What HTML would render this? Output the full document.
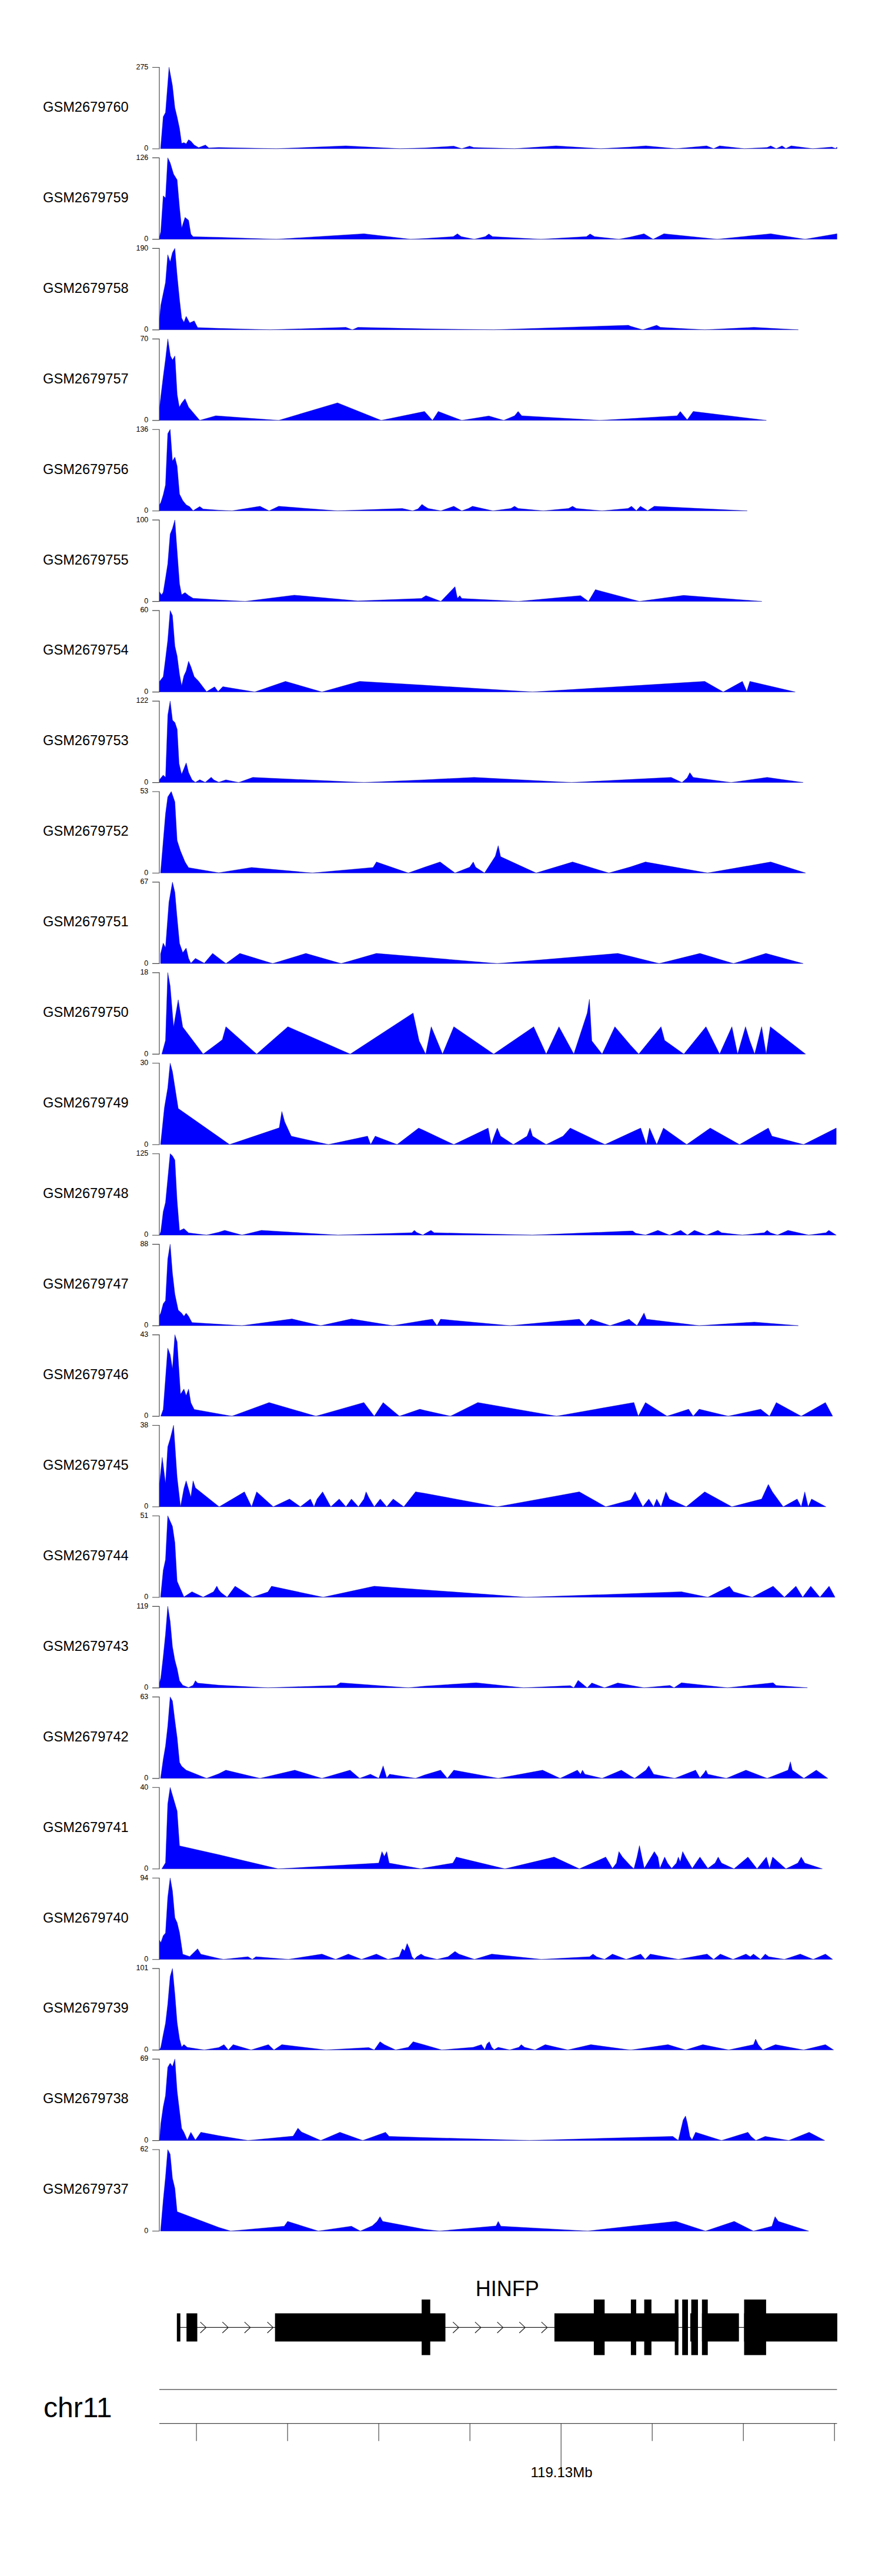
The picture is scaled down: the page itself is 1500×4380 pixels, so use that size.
<!DOCTYPE html>
<html><head><meta charset="utf-8"><title>tracks</title>
<style>
html,body{margin:0;padding:0;background:#fff;}
body{width:1500px;height:4380px;position:relative;overflow:hidden;}
svg text{font-family:"Liberation Sans",sans-serif;fill:#000;}
</style></head><body>
<svg width="1500" height="4380" viewBox="0 0 1500 4380" style="position:absolute;left:0;top:0">
<rect width="1500" height="4380" fill="#fff"/>
<path d="M259,114.50H271M271,114.00V253.50M259,253.00H271" stroke="#444" stroke-width="1.15" fill="none"/>
<path d="M273.1,252.8L273.1,252.8L277.6,198.5L281.5,191.2L287.5,114.3L293.3,145.8L297.4,183.2L301.2,198.9L305.3,218.3L308.9,243.7L312.8,242.5L316.6,244.4L320.7,237.6L324.6,240.0L330.3,246.6L337.8,250.9L349.4,246.6L355.1,251.4L372.0,250.8L470.0,252.8L588.3,248.0L680.2,252.8L722.0,251.6L771.8,248.4L785.3,252.8L798.7,248.4L805.7,250.8L875.1,252.8L945.7,248.0L1022.0,252.8L1072.0,250.0L1098.5,248.0L1149.6,252.8L1201.8,248.0L1213.6,252.8L1223.8,248.0L1265.9,252.8L1304.7,250.8L1310.8,248.0L1320.2,252.8L1330.0,248.0L1336.5,252.4L1345.5,248.0L1382.2,252.8L1414.9,250.0L1421.0,252.4L1423.4,250.0L1423.4,252.8L1423.4,252.8Z" fill="#0000ff" stroke="#00009a" stroke-width="0.45" stroke-linejoin="round"/>
<text x="252.3" y="117.8" font-size="12.5" text-anchor="end">275</text>
<text x="252.3" y="256.2" font-size="12.5" text-anchor="end">0</text>
<text x="73.1" y="189.8" font-size="23.6">GSM2679760</text>
<path d="M259,268.44H271M271,267.94V407.44M259,406.94H271" stroke="#444" stroke-width="1.15" fill="none"/>
<path d="M271.3,406.8L271.3,406.8L271.3,402.9L273.5,393.8L277.6,333.0L281.5,336.6L285.3,268.3L289.4,276.7L295.2,296.0L301.2,305.7L305.3,352.7L308.9,387.7L314.7,369.6L320.7,374.5L324.6,398.1L328.4,402.4L372.0,403.5L470.0,406.8L618.9,397.4L698.5,406.8L722.0,405.6L771.0,402.3L777.9,397.4L784.4,402.3L806.5,406.8L825.3,402.3L831.4,397.8L837.5,402.3L920.0,406.8L997.5,402.3L1003.6,397.8L1011.0,402.3L1052.6,406.8L1072.0,403.1L1095.3,397.4L1110.8,406.8L1129.1,397.4L1219.8,406.8L1310.8,397.4L1369.1,406.8L1423.4,397.4L1423.4,406.8L1423.4,406.8Z" fill="#0000ff" stroke="#00009a" stroke-width="0.45" stroke-linejoin="round"/>
<text x="252.3" y="271.7" font-size="12.5" text-anchor="end">126</text>
<text x="252.3" y="410.1" font-size="12.5" text-anchor="end">0</text>
<text x="73.1" y="343.7" font-size="23.6">GSM2679759</text>
<path d="M259,422.37H271M271,421.87V561.37M259,560.87H271" stroke="#444" stroke-width="1.15" fill="none"/>
<path d="M271.3,560.7L271.3,560.7L271.3,541.9L273.5,518.9L281.5,480.2L285.3,433.1L289.4,445.2L293.3,429.5L297.4,422.2L301.2,468.1L305.3,509.2L308.9,540.7L312.8,547.9L316.6,537.8L322.6,549.1L330.3,545.5L336.1,556.9L372.0,558.3L459.8,560.7L588.3,556.6L599.3,560.7L608.7,556.6L722.0,559.1L839.6,560.7L1068.9,553.0L1072.0,554.6L1093.2,560.7L1116.9,553.0L1123.0,556.6L1198.5,560.7L1282.2,556.6L1357.7,560.7L1357.7,560.7Z" fill="#0000ff" stroke="#00009a" stroke-width="0.45" stroke-linejoin="round"/>
<text x="252.3" y="425.7" font-size="12.5" text-anchor="end">190</text>
<text x="252.3" y="564.1" font-size="12.5" text-anchor="end">0</text>
<text x="73.1" y="497.7" font-size="23.6">GSM2679758</text>
<path d="M259,576.31H271M271,575.81V715.31M259,714.81H271" stroke="#444" stroke-width="1.15" fill="none"/>
<path d="M271.4,714.7L271.4,714.7L271.4,692.9L273.4,675.2L277.5,641.2L281.6,609.9L285.4,576.2L289.8,605.1L293.4,611.9L297.5,605.1L301.3,671.1L305.0,692.2L308.8,685.4L314.7,677.9L320.7,692.2L339.7,714.7L366.9,706.9L372.0,707.3L474.0,714.7L574.0,684.9L648.3,714.7L722.0,699.6L735.5,714.7L745.3,699.6L785.3,714.7L831.4,707.3L856.7,714.7L875.1,706.9L881.2,699.6L887.3,706.9L1020.0,714.7L1072.0,711.8L1151.6,706.9L1156.9,699.6L1168.7,713.8L1178.9,699.6L1303.4,714.7L1303.4,714.7Z" fill="#0000ff" stroke="#00009a" stroke-width="0.45" stroke-linejoin="round"/>
<text x="252.3" y="579.6" font-size="12.5" text-anchor="end">70</text>
<text x="252.3" y="718.0" font-size="12.5" text-anchor="end">0</text>
<text x="73.1" y="651.6" font-size="23.6">GSM2679757</text>
<path d="M259,730.24H271M271,729.74V869.24M259,868.74H271" stroke="#444" stroke-width="1.15" fill="none"/>
<path d="M271.3,868.6L271.3,868.6L271.3,858.2L273.5,854.6L277.6,841.3L281.5,824.4L285.3,737.3L289.4,730.1L293.3,784.0L297.4,777.2L301.2,792.5L305.3,840.1L310.8,850.9L316.6,858.2L322.6,861.6L328.4,868.3L339.7,861.3L345.5,865.4L372.0,867.4L394.4,868.6L442.2,860.8L457.7,868.6L474.0,860.8L574.0,868.6L684.2,864.5L701.8,868.6L710.8,865.3L717.7,857.6L722.0,860.8L728.1,864.5L749.8,868.6L771.8,860.8L785.3,868.6L796.7,864.5L803.6,860.8L838.3,868.6L868.9,864.5L875.1,860.8L881.2,864.5L924.0,868.6L966.9,864.5L973.8,860.8L980.0,864.5L1024.0,868.6L1068.1,864.5L1074.0,860.8L1082.2,868.2L1089.1,860.8L1101.4,868.2L1112.8,860.8L1270.8,868.6L1270.8,868.6Z" fill="#0000ff" stroke="#00009a" stroke-width="0.45" stroke-linejoin="round"/>
<text x="252.3" y="733.5" font-size="12.5" text-anchor="end">136</text>
<text x="252.3" y="871.9" font-size="12.5" text-anchor="end">0</text>
<text x="73.1" y="805.5" font-size="23.6">GSM2679756</text>
<path d="M259,884.17H271M271,883.67V1023.17M259,1022.67H271" stroke="#444" stroke-width="1.15" fill="none"/>
<path d="M271.3,1022.5L271.3,1022.5L271.3,1006.4L274.7,1011.4L277.6,1007.1L281.5,983.0L285.3,958.8L289.4,908.2L293.3,898.5L297.4,884.0L301.2,937.1L305.3,992.6L308.9,1011.2L314.7,1007.6L320.7,1012.4L328.4,1017.2L372.0,1020.1L416.9,1022.5L500.6,1011.9L608.7,1021.7L716.9,1017.6L724.4,1012.7L749.8,1022.5L773.8,997.6L777.9,1017.2L782.0,1012.7L785.3,1017.6L881.2,1022.5L987.3,1012.7L1000.8,1022.5L1012.6,1002.5L1072.0,1018.4L1087.5,1022.5L1162.6,1012.3L1295.7,1022.5L1295.7,1022.5Z" fill="#0000ff" stroke="#00009a" stroke-width="0.45" stroke-linejoin="round"/>
<text x="252.3" y="887.5" font-size="12.5" text-anchor="end">100</text>
<text x="252.3" y="1025.9" font-size="12.5" text-anchor="end">0</text>
<text x="73.1" y="959.5" font-size="23.6">GSM2679755</text>
<path d="M259,1038.11H271M271,1037.61V1177.11M259,1176.61H271" stroke="#444" stroke-width="1.15" fill="none"/>
<path d="M271.3,1176.5L271.3,1176.5L271.3,1158.8L277.6,1150.4L281.5,1120.1L285.3,1088.7L289.4,1038.0L293.3,1046.4L297.4,1098.4L301.2,1115.3L305.3,1146.7L308.9,1166.1L312.8,1149.1L316.6,1140.7L320.7,1124.3L324.6,1133.4L330.3,1150.4L337.8,1158.3L351.3,1176.0L365.0,1167.8L370.8,1175.7L372.0,1174.8L378.9,1167.5L433.2,1176.5L485.5,1158.5L547.5,1176.5L611.6,1158.5L722.0,1165.0L905.7,1176.5L1072.0,1166.3L1198.5,1158.5L1230.0,1176.5L1262.6,1158.5L1270.0,1175.6L1275.3,1158.5L1352.4,1176.5L1352.4,1176.5Z" fill="#0000ff" stroke="#00009a" stroke-width="0.45" stroke-linejoin="round"/>
<text x="252.3" y="1041.4" font-size="12.5" text-anchor="end">60</text>
<text x="252.3" y="1179.8" font-size="12.5" text-anchor="end">0</text>
<text x="73.1" y="1113.4" font-size="23.6">GSM2679754</text>
<path d="M259,1192.05H271M271,1191.55V1331.05M259,1330.55H271" stroke="#444" stroke-width="1.15" fill="none"/>
<path d="M271.4,1330.4L271.4,1330.4L271.4,1325.6L277.5,1317.9L281.6,1321.6L285.4,1215.7L289.4,1191.9L293.4,1224.5L297.5,1228.6L301.3,1240.1L304.5,1298.2L308.8,1316.5L312.2,1308.4L316.7,1297.1L320.8,1313.5L326.5,1325.7L332.2,1330.2L339.8,1325.7L349.0,1330.2L359.2,1321.6L363.7,1326.1L372.0,1330.0L384.2,1325.9L405.9,1330.4L430.0,1321.8L618.9,1330.4L722.0,1325.9L806.5,1321.8L971.8,1330.4L1072.0,1325.3L1141.4,1321.8L1159.8,1330.4L1168.7,1322.6L1173.2,1313.7L1178.9,1321.8L1243.4,1330.4L1304.7,1321.8L1365.9,1330.4L1365.9,1330.4Z" fill="#0000ff" stroke="#00009a" stroke-width="0.45" stroke-linejoin="round"/>
<text x="252.3" y="1195.3" font-size="12.5" text-anchor="end">122</text>
<text x="252.3" y="1333.7" font-size="12.5" text-anchor="end">0</text>
<text x="73.1" y="1267.3" font-size="23.6">GSM2679753</text>
<path d="M259,1345.98H271M271,1345.48V1484.98M259,1484.48H271" stroke="#444" stroke-width="1.15" fill="none"/>
<path d="M273.1,1484.3L273.1,1484.3L281.5,1383.8L285.3,1355.0L291.3,1345.8L297.4,1363.4L301.2,1429.0L307.0,1447.1L314.7,1465.6L320.7,1475.2L372.0,1483.9L427.9,1474.9L531.2,1484.3L634.4,1474.9L640.2,1465.6L694.4,1484.3L722.0,1474.5L748.5,1465.6L773.8,1484.3L798.7,1474.5L804.9,1465.6L808.9,1474.5L824.0,1484.3L842.4,1455.8L847.3,1437.8L851.4,1456.6L911.8,1484.3L973.8,1465.6L1035.5,1484.3L1072.0,1474.1L1097.7,1465.6L1203.4,1484.3L1310.8,1465.6L1370.0,1484.3L1370.0,1484.3Z" fill="#0000ff" stroke="#00009a" stroke-width="0.45" stroke-linejoin="round"/>
<text x="252.3" y="1349.3" font-size="12.5" text-anchor="end">53</text>
<text x="252.3" y="1487.7" font-size="12.5" text-anchor="end">0</text>
<text x="73.1" y="1421.3" font-size="23.6">GSM2679752</text>
<path d="M259,1499.91H271M271,1499.41V1638.91M259,1638.41H271" stroke="#444" stroke-width="1.15" fill="none"/>
<path d="M273.1,1638.3L273.1,1638.3L273.1,1622.1L277.6,1603.6L281.5,1611.3L287.3,1534.2L293.3,1499.8L297.4,1517.3L301.2,1560.7L305.3,1604.1L310.8,1619.7L316.6,1612.0L320.7,1629.4L324.6,1637.8L332.3,1629.6L347.4,1637.8L361.6,1620.9L372.0,1628.9L384.2,1638.3L407.9,1621.1L463.8,1638.3L520.2,1621.1L580.2,1638.3L640.2,1621.1L722.0,1627.7L845.7,1638.3L1050.6,1621.1L1072.0,1626.0L1121.0,1638.3L1190.4,1621.1L1247.5,1638.3L1302.6,1621.1L1365.9,1638.3L1365.9,1638.3Z" fill="#0000ff" stroke="#00009a" stroke-width="0.45" stroke-linejoin="round"/>
<text x="252.3" y="1503.2" font-size="12.5" text-anchor="end">67</text>
<text x="252.3" y="1641.6" font-size="12.5" text-anchor="end">0</text>
<text x="73.1" y="1575.2" font-size="23.6">GSM2679751</text>
<path d="M259,1653.85H271M271,1653.35V1792.85M259,1792.35H271" stroke="#444" stroke-width="1.15" fill="none"/>
<path d="M275.2,1792.2L275.2,1792.2L281.5,1769.1L285.3,1653.7L289.4,1676.5L295.2,1746.3L303.1,1699.9L310.8,1746.3L345.5,1792.2L372.0,1772.6L378.1,1767.7L384.2,1745.7L436.5,1792.2L489.6,1745.7L595.7,1792.2L702.6,1722.4L712.8,1769.8L723.8,1792.2L724.0,1792.2L733.4,1745.7L752.6,1792.2L771.8,1745.7L839.6,1792.2L907.7,1745.7L928.9,1792.2L950.6,1745.7L975.9,1792.2L998.7,1722.4L1002.4,1699.1L1006.5,1769.8L1024.0,1792.2L1045.7,1745.7L1072.0,1776.7L1086.3,1792.2L1124.2,1745.7L1130.4,1768.9L1163.0,1792.2L1200.6,1745.7L1223.8,1792.2L1244.7,1745.7L1254.4,1792.2L1267.9,1745.7L1274.9,1768.9L1283.4,1792.2L1295.3,1745.7L1303.0,1792.2L1310.0,1745.7L1370.0,1792.2L1370.0,1792.2Z" fill="#0000ff" stroke="#00009a" stroke-width="0.45" stroke-linejoin="round"/>
<text x="252.3" y="1657.1" font-size="12.5" text-anchor="end">18</text>
<text x="252.3" y="1795.5" font-size="12.5" text-anchor="end">0</text>
<text x="73.1" y="1729.1" font-size="23.6">GSM2679750</text>
<path d="M259,1807.79H271M271,1807.29V1946.79M259,1946.29H271" stroke="#444" stroke-width="1.15" fill="none"/>
<path d="M273.1,1946.1L273.1,1946.1L279.6,1883.5L285.3,1849.8L289.4,1807.6L293.3,1822.1L303.1,1884.7L372.0,1933.1L390.4,1946.1L474.9,1917.6L479.3,1889.8L484.2,1907.4L495.3,1931.8L558.5,1946.1L625.1,1931.8L630.4,1946.1L638.1,1931.8L675.3,1946.1L712.0,1918.0L722.0,1922.5L771.8,1946.1L830.2,1918.0L835.5,1946.1L840.4,1931.8L845.7,1918.0L851.4,1931.8L873.0,1946.1L896.3,1931.8L901.6,1918.0L905.7,1931.8L928.9,1946.1L957.5,1931.8L969.8,1918.0L1028.9,1946.1L1072.0,1926.1L1089.6,1918.0L1099.3,1946.1L1104.7,1918.0L1116.9,1946.1L1128.3,1918.0L1167.9,1946.1L1207.9,1918.0L1257.7,1946.1L1306.7,1918.0L1312.8,1931.8L1366.7,1946.1L1422.2,1918.0L1422.2,1946.1L1422.2,1946.1Z" fill="#0000ff" stroke="#00009a" stroke-width="0.45" stroke-linejoin="round"/>
<text x="252.3" y="1811.1" font-size="12.5" text-anchor="end">30</text>
<text x="252.3" y="1949.5" font-size="12.5" text-anchor="end">0</text>
<text x="73.1" y="1883.1" font-size="23.6">GSM2679749</text>
<path d="M259,1961.72H271M271,1961.22V2100.72M259,2100.22H271" stroke="#444" stroke-width="1.15" fill="none"/>
<path d="M271.3,2100.1L271.3,2100.1L273.5,2093.8L277.6,2060.2L281.5,2044.5L289.4,1961.6L293.3,1965.2L297.4,1972.4L301.2,2042.1L305.3,2092.6L312.8,2089.0L320.7,2096.2L351.3,2100.1L372.0,2095.2L382.2,2091.9L411.6,2100.1L444.7,2091.9L574.9,2100.1L700.6,2096.0L704.7,2091.9L708.7,2095.6L719.3,2100.1L722.0,2098.0L733.0,2091.9L738.3,2096.0L905.7,2100.1L1072.0,2093.1L1076.1,2093.1L1081.0,2096.8L1097.7,2100.1L1118.9,2091.9L1138.5,2100.1L1157.7,2091.9L1169.1,2100.1L1181.0,2091.9L1201.8,2100.1L1221.0,2091.9L1227.1,2096.0L1262.6,2100.1L1299.8,2096.0L1304.7,2091.9L1310.0,2096.0L1322.2,2100.1L1340.2,2091.9L1375.3,2100.1L1404.7,2096.0L1409.6,2091.9L1422.2,2100.1L1422.2,2100.1Z" fill="#0000ff" stroke="#00009a" stroke-width="0.45" stroke-linejoin="round"/>
<text x="252.3" y="1965.0" font-size="12.5" text-anchor="end">125</text>
<text x="252.3" y="2103.4" font-size="12.5" text-anchor="end">0</text>
<text x="73.1" y="2037.0" font-size="23.6">GSM2679748</text>
<path d="M259,2115.65H271M271,2115.15V2254.65M259,2254.15H271" stroke="#444" stroke-width="1.15" fill="none"/>
<path d="M271.3,2254.0L271.3,2254.0L271.3,2237.1L273.5,2232.3L277.6,2216.7L281.5,2211.4L285.3,2140.8L289.4,2115.5L293.3,2164.9L297.4,2200.5L303.1,2227.5L308.9,2232.8L312.8,2237.9L316.6,2232.8L320.7,2237.9L326.5,2248.7L372.0,2251.6L411.6,2254.0L496.5,2242.6L545.5,2254.0L597.7,2242.6L667.9,2254.0L722.0,2245.0L735.5,2243.0L743.2,2254.0L749.3,2243.0L867.7,2254.0L985.3,2243.0L995.5,2254.0L1004.9,2243.0L1037.5,2254.0L1070.2,2243.0L1072.0,2245.0L1083.4,2254.0L1095.3,2232.4L1099.3,2243.0L1189.1,2254.0L1283.0,2247.9L1357.7,2254.0L1357.7,2254.0Z" fill="#0000ff" stroke="#00009a" stroke-width="0.45" stroke-linejoin="round"/>
<text x="252.3" y="2119.0" font-size="12.5" text-anchor="end">88</text>
<text x="252.3" y="2257.4" font-size="12.5" text-anchor="end">0</text>
<text x="73.1" y="2191.0" font-size="23.6">GSM2679747</text>
<path d="M259,2269.59H271M271,2269.09V2408.59M259,2408.09H271" stroke="#444" stroke-width="1.15" fill="none"/>
<path d="M273.5,2407.9L273.5,2407.9L277.6,2396.4L285.3,2292.3L289.4,2303.2L293.3,2327.7L297.4,2269.4L301.2,2281.5L307.0,2370.6L312.8,2361.7L316.6,2373.0L320.7,2361.7L324.6,2385.1L330.3,2396.4L372.0,2403.9L394.4,2407.9L457.7,2384.7L537.3,2407.9L618.9,2384.7L636.5,2407.9L651.6,2384.7L679.3,2407.9L714.0,2396.1L722.0,2398.1L766.1,2407.9L812.6,2384.7L946.5,2407.9L1072.0,2385.7L1078.1,2384.7L1085.5,2407.9L1097.7,2384.7L1134.4,2407.9L1171.2,2396.1L1178.9,2407.9L1189.1,2396.1L1238.5,2407.9L1293.6,2396.1L1308.7,2407.9L1320.2,2384.7L1362.6,2407.9L1403.8,2384.7L1416.1,2407.9L1416.1,2407.9Z" fill="#0000ff" stroke="#00009a" stroke-width="0.45" stroke-linejoin="round"/>
<text x="252.3" y="2272.9" font-size="12.5" text-anchor="end">43</text>
<text x="252.3" y="2411.3" font-size="12.5" text-anchor="end">0</text>
<text x="73.1" y="2344.9" font-size="23.6">GSM2679746</text>
<path d="M259,2423.53H271M271,2423.03V2562.53M259,2562.03H271" stroke="#444" stroke-width="1.15" fill="none"/>
<path d="M271.3,2561.9L271.3,2561.9L271.3,2522.6L275.9,2478.1L281.5,2522.6L285.3,2460.0L289.4,2446.7L295.2,2423.4L301.2,2511.8L307.0,2561.9L312.8,2531.0L316.6,2517.8L324.6,2545.5L328.4,2517.8L332.3,2529.8L372.7,2561.9L372.8,2561.9L415.7,2536.6L427.9,2561.9L436.5,2536.6L464.7,2561.9L492.4,2548.8L510.8,2561.9L527.9,2548.8L534.0,2561.9L539.3,2548.8L548.7,2536.6L562.6,2561.9L576.9,2548.8L588.3,2561.9L597.7,2548.8L609.6,2561.9L618.9,2548.8L622.6,2536.6L627.1,2546.0L636.5,2561.9L646.7,2548.8L657.7,2561.9L668.7,2548.8L686.7,2561.9L706.7,2536.6L722.0,2539.0L845.7,2561.9L985.3,2536.6L1030.2,2561.9L1072.0,2550.4L1073.6,2548.8L1080.2,2536.6L1093.2,2561.9L1103.4,2548.8L1111.6,2561.9L1116.9,2548.8L1124.2,2561.9L1132.4,2536.6L1138.5,2548.8L1167.1,2561.9L1198.5,2536.6L1244.7,2561.9L1295.3,2548.8L1306.7,2523.9L1313.6,2536.6L1332.0,2561.9L1355.7,2548.8L1362.6,2561.9L1368.7,2536.6L1374.4,2561.9L1380.2,2548.8L1404.7,2561.9L1404.7,2561.9Z" fill="#0000ff" stroke="#00009a" stroke-width="0.45" stroke-linejoin="round"/>
<text x="252.3" y="2426.8" font-size="12.5" text-anchor="end">38</text>
<text x="252.3" y="2565.2" font-size="12.5" text-anchor="end">0</text>
<text x="73.1" y="2498.8" font-size="23.6">GSM2679745</text>
<path d="M259,2577.46H271M271,2576.96V2716.46M259,2715.96H271" stroke="#444" stroke-width="1.15" fill="none"/>
<path d="M273.1,2715.8L273.1,2715.8L277.6,2669.9L281.5,2651.8L285.3,2577.3L293.3,2595.3L297.4,2623.0L301.2,2688.4L312.8,2715.3L326.5,2706.4L345.5,2715.6L363.1,2706.4L368.8,2696.8L372.0,2703.2L376.1,2708.1L386.3,2715.8L399.8,2697.0L429.1,2715.8L455.7,2706.8L461.8,2697.0L549.6,2715.8L636.5,2697.0L722.0,2703.2L894.7,2715.8L1072.0,2709.7L1158.9,2706.4L1203.8,2715.8L1240.6,2697.0L1247.5,2706.4L1279.3,2715.8L1314.9,2697.0L1334.0,2715.8L1353.6,2697.0L1365.1,2715.8L1378.9,2697.0L1394.4,2715.8L1410.0,2697.0L1420.2,2715.8L1420.2,2715.8Z" fill="#0000ff" stroke="#00009a" stroke-width="0.45" stroke-linejoin="round"/>
<text x="252.3" y="2580.8" font-size="12.5" text-anchor="end">51</text>
<text x="252.3" y="2719.2" font-size="12.5" text-anchor="end">0</text>
<text x="73.1" y="2652.8" font-size="23.6">GSM2679744</text>
<path d="M259,2731.39H271M271,2730.89V2870.39M259,2869.89H271" stroke="#444" stroke-width="1.15" fill="none"/>
<path d="M271.3,2869.7L271.3,2869.7L271.3,2861.3L273.5,2852.9L277.6,2816.9L281.5,2778.5L285.3,2731.2L289.4,2756.9L293.3,2800.1L297.4,2822.9L301.2,2837.3L305.3,2857.7L310.8,2865.4L320.7,2869.3L328.4,2865.4L332.3,2857.7L336.1,2861.8L372.0,2865.3L455.7,2869.7L572.0,2865.7L578.9,2861.2L694.4,2869.7L722.0,2866.9L809.8,2861.2L890.6,2869.7L969.8,2866.1L975.9,2869.7L983.2,2857.1L998.7,2869.7L1006.5,2861.6L1028.1,2869.7L1050.6,2861.6L1072.0,2865.5L1095.3,2869.7L1139.3,2865.7L1146.3,2869.7L1158.9,2861.2L1237.3,2869.7L1314.9,2861.2L1319.8,2865.7L1373.2,2869.7L1373.2,2869.7Z" fill="#0000ff" stroke="#00009a" stroke-width="0.45" stroke-linejoin="round"/>
<text x="252.3" y="2734.7" font-size="12.5" text-anchor="end">119</text>
<text x="252.3" y="2873.1" font-size="12.5" text-anchor="end">0</text>
<text x="73.1" y="2806.7" font-size="23.6">GSM2679743</text>
<path d="M259,2885.33H271M271,2884.83V3024.33M259,3023.83H271" stroke="#444" stroke-width="1.15" fill="none"/>
<path d="M273.1,3023.7L273.1,3023.7L277.6,2991.6L281.5,2968.8L285.3,2935.0L289.4,2885.2L293.3,2892.2L297.4,2925.4L301.2,2954.3L305.3,2996.5L308.9,3003.0L316.6,3009.7L351.3,3023.7L372.0,3015.9L384.2,3009.8L442.2,3023.7L501.4,3009.8L547.5,3023.7L595.3,3009.8L611.6,3023.7L630.0,3016.7L644.2,3023.7L651.6,3002.5L657.7,3022.9L662.6,3016.7L706.7,3023.7L722.0,3018.0L749.3,3009.8L760.8,3023.7L771.8,3009.8L847.3,3023.7L922.8,3009.8L952.6,3023.7L982.0,3009.8L987.3,3016.7L990.6,3009.8L994.7,3016.7L1024.0,3023.7L1056.7,3009.8L1072.0,3019.6L1079.3,3023.7L1098.5,3009.8L1103.4,3002.5L1111.6,3016.7L1147.5,3023.7L1183.0,3009.8L1190.4,3022.9L1197.3,3014.7L1200.6,3009.8L1203.8,3016.7L1235.3,3023.7L1268.7,3009.8L1304.7,3023.7L1340.2,3009.8L1344.2,2995.5L1347.5,3009.8L1367.1,3023.7L1388.3,3009.8L1407.9,3023.7L1407.9,3023.7Z" fill="#0000ff" stroke="#00009a" stroke-width="0.45" stroke-linejoin="round"/>
<text x="252.3" y="2888.6" font-size="12.5" text-anchor="end">63</text>
<text x="252.3" y="3027.0" font-size="12.5" text-anchor="end">0</text>
<text x="73.1" y="2960.6" font-size="23.6">GSM2679742</text>
<path d="M259,3039.26H271M271,3038.76V3178.26M259,3177.76H271" stroke="#444" stroke-width="1.15" fill="none"/>
<path d="M275.2,3177.6L275.2,3177.6L281.5,3167.3L285.3,3067.3L289.4,3039.1L301.2,3079.3L305.3,3138.4L372.0,3153.5L473.2,3177.6L644.2,3167.8L649.6,3148.2L653.6,3156.4L657.7,3148.2L661.8,3167.8L716.1,3177.6L722.0,3176.0L770.2,3167.8L775.9,3157.6L858.7,3177.6L942.4,3157.6L985.3,3177.6L1030.2,3157.6L1041.6,3176.8L1048.5,3167.8L1052.6,3148.2L1058.7,3157.6L1072.0,3171.9L1078.1,3177.6L1083.4,3157.6L1087.5,3138.0L1095.7,3176.8L1112.8,3148.2L1118.9,3157.6L1122.2,3176.8L1130.4,3157.6L1135.3,3167.8L1142.2,3176.8L1150.4,3167.8L1153.6,3157.6L1156.9,3165.8L1161.0,3148.2L1165.9,3157.6L1177.3,3176.8L1190.4,3157.6L1203.8,3176.8L1216.1,3167.8L1221.4,3157.6L1227.1,3167.8L1248.3,3177.6L1272.0,3157.6L1287.5,3177.6L1303.4,3157.6L1308.7,3176.8L1314.0,3157.6L1336.5,3177.6L1356.9,3167.8L1362.6,3157.6L1368.7,3167.8L1398.5,3177.6L1398.5,3177.6Z" fill="#0000ff" stroke="#00009a" stroke-width="0.45" stroke-linejoin="round"/>
<text x="252.3" y="3042.6" font-size="12.5" text-anchor="end">40</text>
<text x="252.3" y="3181.0" font-size="12.5" text-anchor="end">0</text>
<text x="73.1" y="3114.6" font-size="23.6">GSM2679741</text>
<path d="M259,3193.20H271M271,3192.70V3332.20M259,3331.70H271" stroke="#444" stroke-width="1.15" fill="none"/>
<path d="M271.3,3331.5L271.3,3331.5L271.3,3299.1L273.5,3303.2L277.6,3291.2L281.5,3286.7L285.3,3225.9L289.4,3193.0L293.3,3215.1L297.4,3260.7L301.2,3269.1L305.3,3285.9L310.8,3322.7L322.6,3326.7L336.1,3313.5L341.6,3322.7L372.0,3329.9L380.2,3331.5L421.8,3327.1L429.1,3331.5L435.3,3327.1L490.4,3331.5L547.5,3322.6L570.8,3331.5L592.4,3322.6L614.9,3331.5L640.2,3322.6L659.8,3331.5L678.9,3327.1L684.2,3313.6L688.3,3316.9L692.4,3304.6L696.5,3313.6L700.6,3327.1L704.7,3331.5L708.7,3327.1L716.1,3322.6L722.0,3326.2L743.2,3331.5L762.0,3327.1L773.8,3318.1L780.4,3322.6L806.9,3331.5L836.3,3322.6L920.8,3331.5L1002.8,3327.1L1008.5,3322.6L1014.7,3327.1L1028.1,3331.5L1041.6,3322.6L1064.9,3331.5L1072.0,3329.1L1089.6,3322.6L1097.3,3331.5L1105.9,3322.6L1153.6,3331.5L1202.6,3322.6L1213.6,3331.5L1225.1,3322.6L1246.7,3331.5L1268.7,3322.6L1276.1,3327.1L1281.4,3322.6L1293.6,3331.5L1301.4,3322.6L1307.5,3327.1L1334.0,3331.5L1361.0,3322.6L1383.0,3331.5L1403.8,3322.6L1416.1,3331.5L1416.1,3331.5Z" fill="#0000ff" stroke="#00009a" stroke-width="0.45" stroke-linejoin="round"/>
<text x="252.3" y="3196.5" font-size="12.5" text-anchor="end">94</text>
<text x="252.3" y="3334.9" font-size="12.5" text-anchor="end">0</text>
<text x="73.1" y="3268.5" font-size="23.6">GSM2679740</text>
<path d="M259,3347.14H271M271,3346.64V3486.14M259,3485.64H271" stroke="#444" stroke-width="1.15" fill="none"/>
<path d="M271.3,3485.5L271.3,3485.5L273.5,3481.1L277.6,3459.5L281.5,3440.2L285.3,3407.7L289.4,3360.7L293.3,3347.0L297.4,3390.8L301.2,3439.0L305.3,3466.7L308.9,3480.4L312.8,3476.3L318.5,3481.1L347.4,3485.5L372.0,3481.4L381.0,3476.5L388.3,3485.5L396.5,3476.5L427.1,3485.5L456.5,3476.5L465.9,3485.5L479.3,3476.5L554.4,3485.5L627.1,3481.4L636.5,3485.5L646.3,3471.6L653.6,3476.5L672.8,3485.5L694.4,3481.0L702.6,3471.6L722.0,3476.9L751.4,3485.5L804.9,3481.0L818.7,3476.5L824.4,3485.1L828.1,3475.3L832.2,3471.6L836.3,3481.0L840.4,3485.1L847.3,3481.0L866.9,3485.5L882.4,3481.0L886.5,3476.5L892.2,3481.0L909.8,3485.5L927.3,3476.5L965.7,3485.5L1004.9,3476.5L1071.0,3485.5L1073.6,3485.5L1136.1,3476.5L1165.9,3485.5L1195.3,3476.5L1239.3,3485.5L1281.4,3476.5L1285.1,3467.1L1289.6,3476.5L1297.3,3485.5L1318.9,3476.5L1366.7,3485.5L1403.8,3476.5L1417.7,3485.5L1417.7,3485.5Z" fill="#0000ff" stroke="#00009a" stroke-width="0.45" stroke-linejoin="round"/>
<text x="252.3" y="3350.4" font-size="12.5" text-anchor="end">101</text>
<text x="252.3" y="3488.8" font-size="12.5" text-anchor="end">0</text>
<text x="73.1" y="3422.4" font-size="23.6">GSM2679739</text>
<path d="M259,3501.07H271M271,3500.57V3640.07M259,3639.57H271" stroke="#444" stroke-width="1.15" fill="none"/>
<path d="M271.3,3639.4L271.3,3639.4L273.5,3611.0L277.6,3582.2L281.5,3563.0L285.3,3514.9L289.4,3508.1L293.3,3513.7L297.4,3500.9L301.2,3555.7L305.3,3589.4L308.9,3618.7L312.8,3625.5L318.5,3638.7L324.6,3625.5L332.3,3638.7L341.6,3625.5L372.0,3631.3L421.8,3639.4L498.5,3632.1L506.7,3618.6L512.8,3625.1L545.5,3639.4L578.1,3625.5L616.9,3639.4L655.7,3625.5L661.8,3632.5L722.0,3634.5L900.4,3639.4L1072.0,3634.5L1144.2,3632.5L1153.6,3639.4L1161.8,3604.7L1165.9,3597.8L1169.1,3610.8L1173.2,3632.5L1176.9,3638.6L1183.0,3625.5L1227.1,3639.4L1272.0,3625.5L1277.3,3632.5L1285.5,3639.4L1301.4,3632.5L1341.4,3639.4L1376.1,3625.5L1402.6,3639.4L1402.6,3639.4Z" fill="#0000ff" stroke="#00009a" stroke-width="0.45" stroke-linejoin="round"/>
<text x="252.3" y="3504.4" font-size="12.5" text-anchor="end">69</text>
<text x="252.3" y="3642.8" font-size="12.5" text-anchor="end">0</text>
<text x="73.1" y="3576.4" font-size="23.6">GSM2679738</text>
<path d="M259,3655.01H271M271,3654.51V3794.01M259,3793.51H271" stroke="#444" stroke-width="1.15" fill="none"/>
<path d="M273.1,3793.4L273.1,3793.4L277.6,3741.2L281.5,3701.4L285.3,3654.9L289.4,3662.8L293.3,3703.8L297.4,3720.7L301.2,3760.5L372.0,3787.2L392.4,3793.4L483.4,3785.2L489.1,3777.0L541.4,3793.4L597.7,3785.2L612.8,3793.4L633.2,3784.4L641.4,3777.0L646.3,3768.9L650.8,3777.0L722.0,3790.5L747.3,3793.4L843.6,3784.8L847.3,3777.0L851.8,3785.2L999.6,3793.4L1072.0,3785.2L1149.6,3777.0L1199.8,3793.4L1248.7,3777.0L1281.4,3793.4L1312.8,3785.2L1318.1,3768.9L1323.8,3777.0L1375.3,3793.4L1375.3,3793.4Z" fill="#0000ff" stroke="#00009a" stroke-width="0.45" stroke-linejoin="round"/>
<text x="252.3" y="3658.3" font-size="12.5" text-anchor="end">62</text>
<text x="252.3" y="3796.7" font-size="12.5" text-anchor="end">0</text>
<text x="73.1" y="3730.3" font-size="23.6">GSM2679737</text>
<g fill="#000">
<path d="M301,3957.4H1424" stroke="#222" stroke-width="1.1" fill="none"/>
<rect x="300.8" y="3933.4" width="5.9" height="47.9"/>
<rect x="317.2" y="3933.4" width="18.3" height="47.9"/>
<rect x="467.7" y="3933.4" width="289.8" height="47.9"/>
<rect x="717.1" y="3909.9" width="14.6" height="94.5"/>
<rect x="942.9" y="3933.4" width="210.9" height="47.9"/>
<rect x="1009.9" y="3909.9" width="18.4" height="94.5"/>
<rect x="1072.9" y="3909.9" width="9.1" height="94.5"/>
<rect x="1095.6" y="3909.9" width="12.3" height="94.5"/>
<rect x="1147.6" y="3909.9" width="6.2" height="94.5"/>
<rect x="1160.2" y="3909.9" width="9.8" height="94.5"/>
<rect x="1175.6" y="3909.9" width="11.4" height="94.5"/>
<rect x="1193.8" y="3909.9" width="9.9" height="94.5"/>
<rect x="1265.5" y="3909.9" width="37.4" height="94.5"/>
<rect x="1174.0" y="3933.4" width="13.0" height="47.9"/>
<rect x="1193.8" y="3933.4" width="62.9" height="47.9"/>
<rect x="1265.5" y="3933.4" width="158.5" height="47.9"/>
</g>
<path d="M340.6,3948.1L350.5,3957.4L340.6,3966.7M378.2,3948.1L388.1,3957.4L378.2,3966.7M415.8,3948.1L425.7,3957.4L415.8,3966.7M454.6,3948.1L464.5,3957.4L454.6,3966.7M770.3,3948.1L780.2,3957.4L770.3,3966.7M807.9,3948.1L817.8,3957.4L807.9,3966.7M845.6,3948.1L855.5,3957.4L845.6,3966.7M883.2,3948.1L893.1,3957.4L883.2,3966.7M920.8,3948.1L930.7,3957.4L920.8,3966.7" stroke="#222" stroke-width="1.25" fill="none"/>
<text x="862.8" y="3903.5" font-size="36" text-anchor="middle">HINFP</text>
<text x="74" y="4109.7" font-size="48">chr11</text>
<path d="M271,4062.8H1423.5M271,4120.6H1423.5M334.1,4120.6V4150.5M489.1,4120.6V4150.5M644.1,4120.6V4150.5M799.2,4120.6V4150.5M954.2,4120.6V4150.5M1109.2,4120.6V4150.5M1264.2,4120.6V4150.5M1419.2,4120.6V4150.5M954.2,4120.6V4210" stroke="#444" stroke-width="1.15" fill="none"/>
<text x="955" y="4212.2" font-size="24" text-anchor="middle">119.13Mb</text>
</svg>
</body></html>
